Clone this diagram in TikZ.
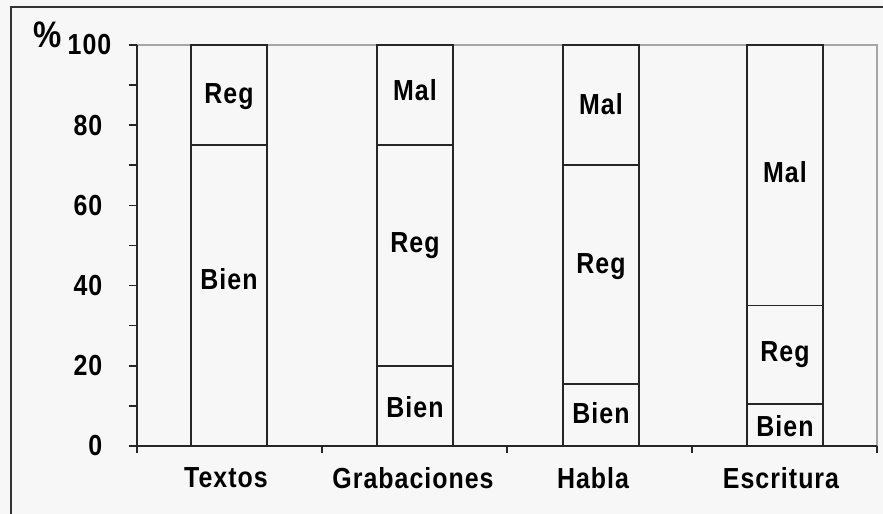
\documentclass[tikz,border=0pt]{standalone}
\usepackage{fontspec}
\setmainfont[FakeStretch=0.86, LetterSpace=3.5]{Liberation Sans}
\begin{document}
\begin{tikzpicture}[x=0.02cm, y=0.0802cm, line width=0.9pt,
		font=\bfseries\fontsize{16.5}{18}\selectfont,
		bar/.style={draw=black!85},
		tick/.style={draw=black!85}]
		\useasboundingbox[fill=black!3] (-137,-16.96) rectangle (746,111.22); % Background
		\draw[black!80] (-126,-20) -- (-126,109.5) -- (760,109.5); % Draw the outer frame
		\draw[black!35, line width=0.7pt] (0,100) -- (740,100) -- (740,0); % Draw the plot border

		\draw[tick] (0,-1.75) -- (0,100); % Draw the y-axis
		\foreach \y in {0,10,...,100} \draw[tick] (-8,\y) -- (0,\y); % Draw the y ticks
		\foreach \y in {0,20,...,80} \node[anchor=east] (y\y) at (-28,\y) {\y}; % Draw the y labels
		\node[anchor=east] (y100) at (-19,100) {100};
		\node[font=\bfseries\fontsize{21}{22}\selectfont] (pct) at (-89,102.6) {\%};

		\draw[tick] (0,0) -- (740,0); % Draw the x-axis
		\foreach \x in {0,185,370,555,740} \draw[tick] (\x,0) -- (\x,-1.75); % Draw the x ticks

		\draw[bar] (54,0) rectangle (130,100); % Draw the Textos bar
		\draw[bar] (54,75) -- (130,75);
		\draw[bar] (240,0) rectangle (316,100); % Draw the Grabaciones bar
		\draw[bar] (240,20) -- (316,20);
		\draw[bar] (240,75) -- (316,75);
		\draw[bar] (426,0) rectangle (502,100); % Draw the Habla bar
		\draw[bar] (426,15.5) -- (502,15.5);
		\draw[bar] (426,70) -- (502,70);
		\draw[bar] (610,0) rectangle (686,100); % Draw the Escritura bar
		\draw[bar] (610,10.5) -- (686,10.5);
		\draw[bar] (610,35) -- (686,35);

		\foreach \x/\y/\t [count=\i] in {92/87/Reg, 92/41.6/Bien,
				278/88.8/Mal, 278/49.9/Reg, 278/9.7/Bien,
				464/85.3/Mal, 464/44.6/Reg, 464/8.2/Bien,
				648/68.3/Mal, 648/22.7/Reg, 648/5/Bien}
			\node (seg\i) at (\x,\y) {\t}; % Draw the segment labels

		\foreach \x/\t [count=\i] in {89/Textos, 276/Grabaciones, 456/Habla, 644/Escritura}
			\node (cat\i) at (\x,-8) {\t}; % Draw the category labels
	\end{tikzpicture}
\end{document}
